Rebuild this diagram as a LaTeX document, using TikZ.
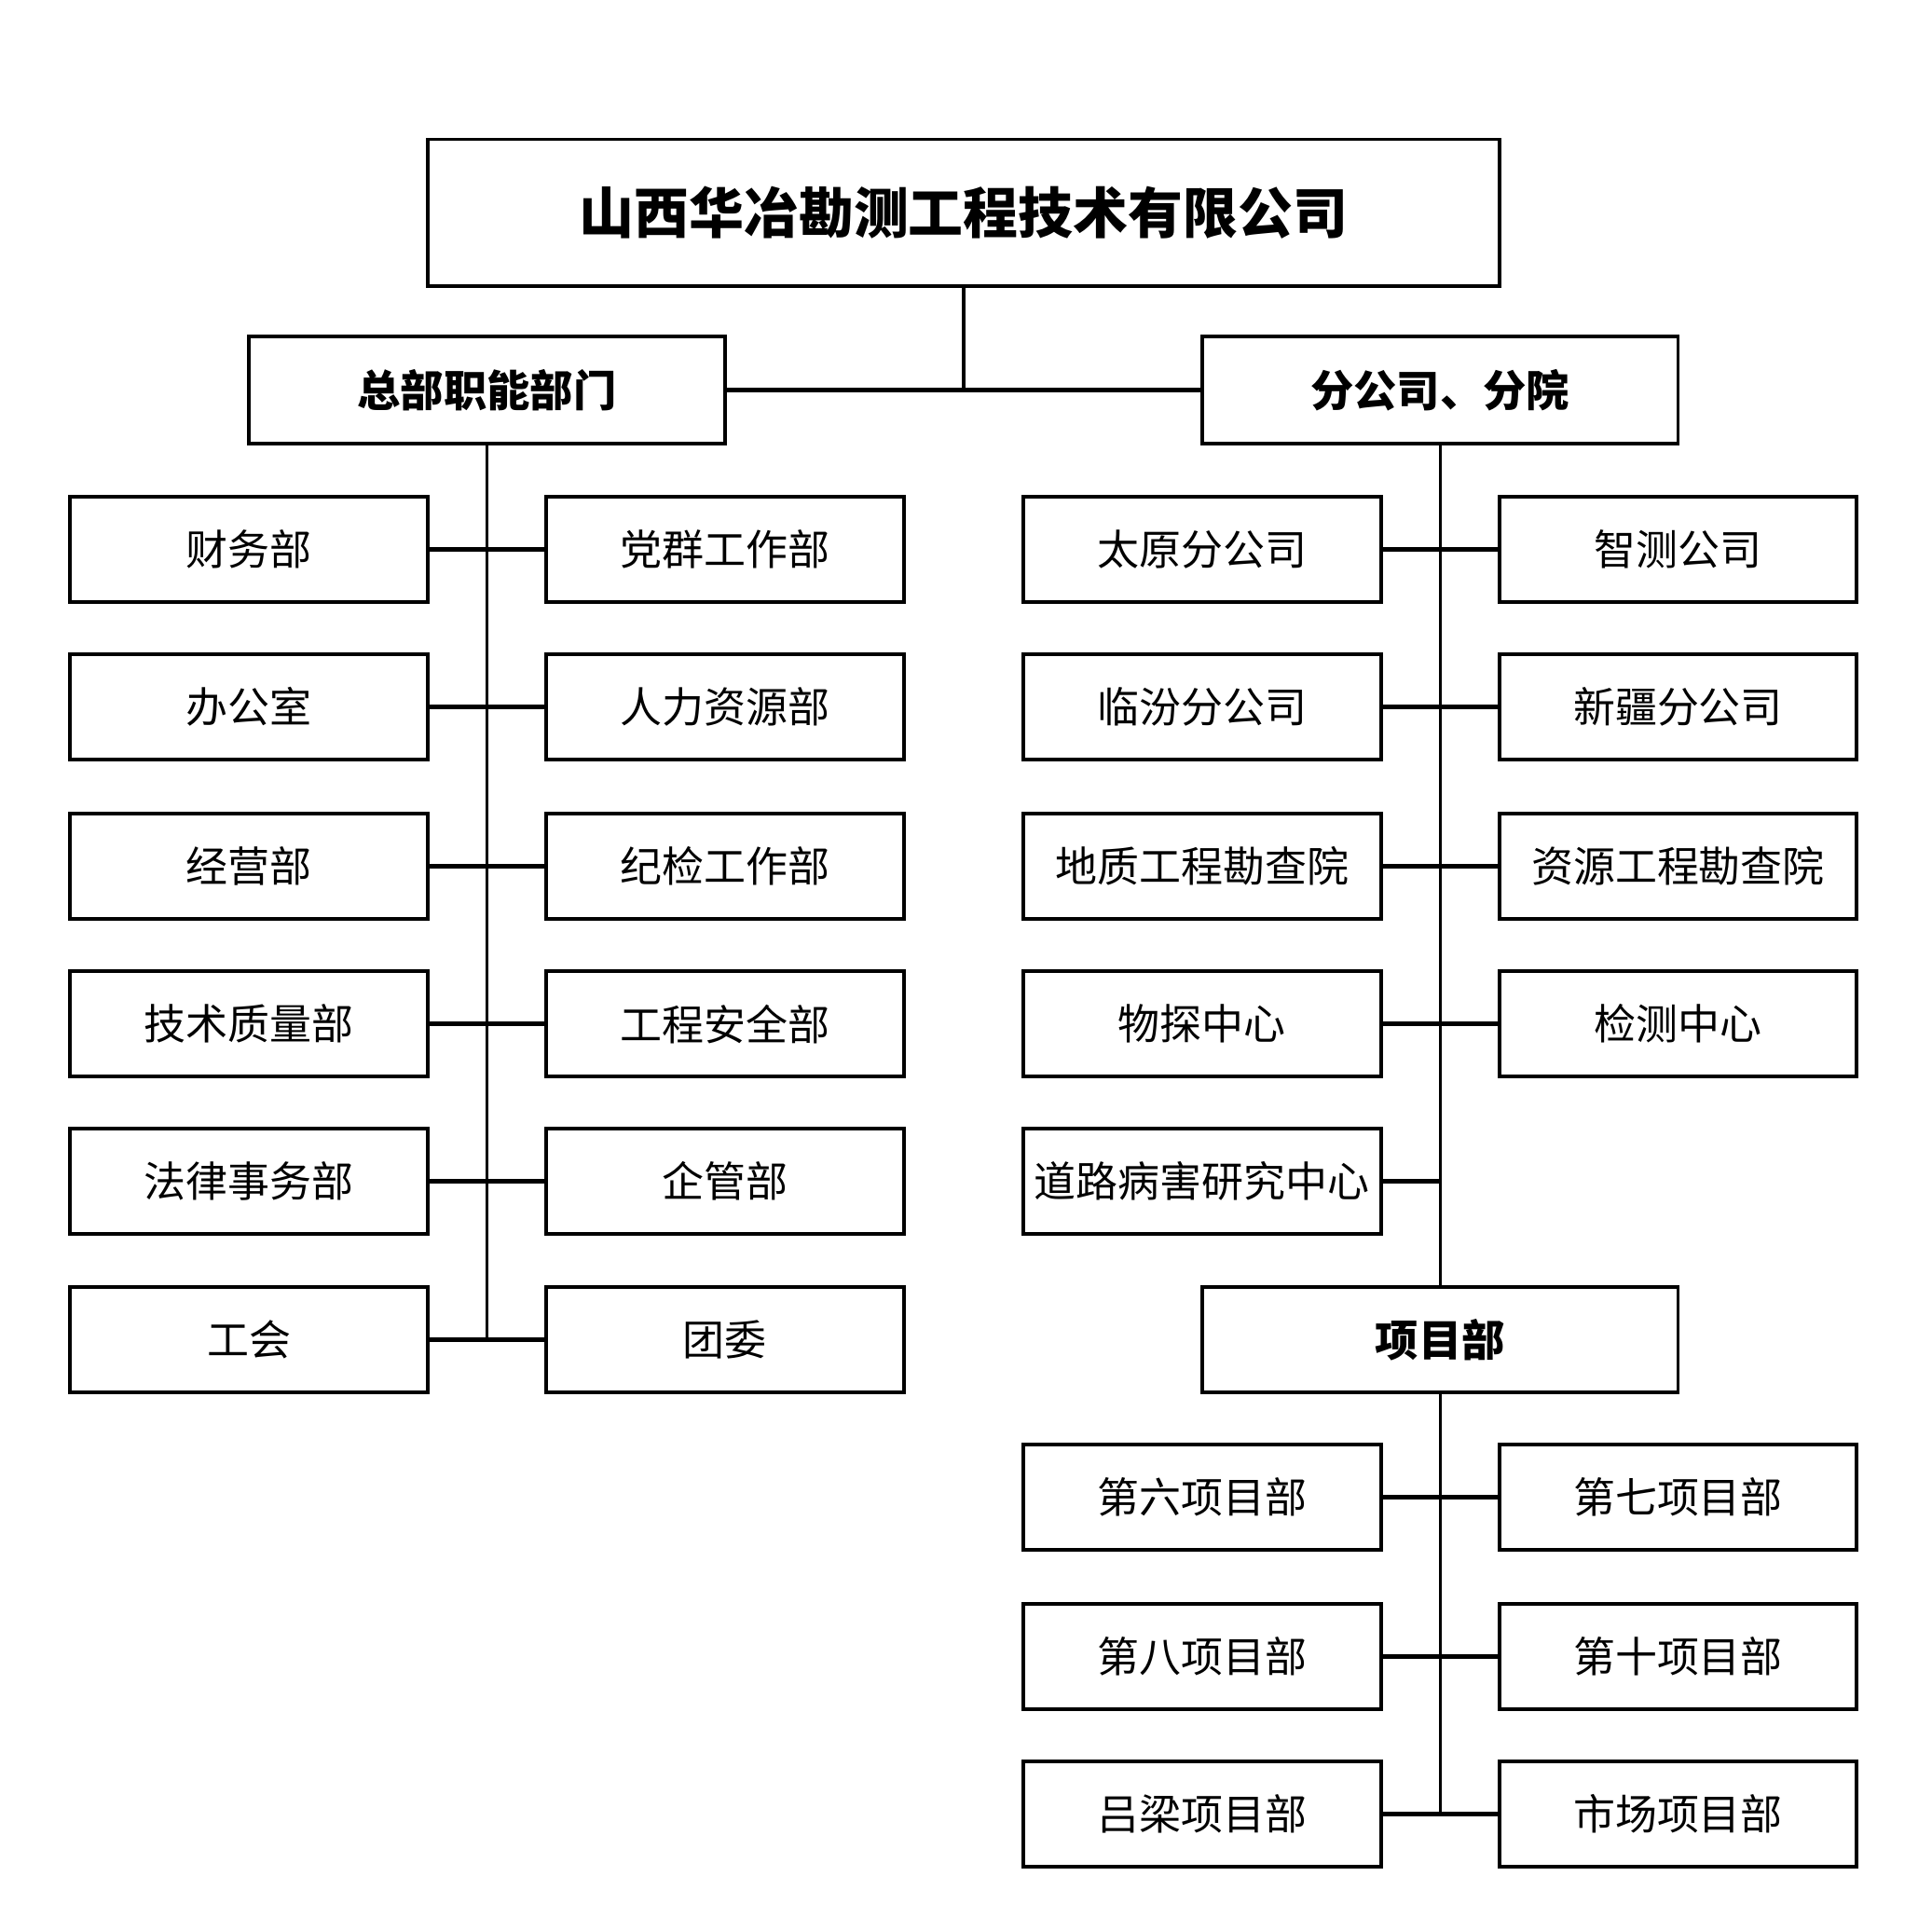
\documentclass[tikz,border=0pt]{standalone}
\usepackage{fontspec}
\newfontfamily\cjk{Noto Sans CJK SC}
\begin{document}
\begin{tikzpicture}[x=1pt,y=-1pt,
  bx/.style={draw,line width=3pt,minimum width=290pt,minimum height=85pt,inner sep=0pt,font=\cjk\fontsize{34}{34}\selectfont},
  midbx/.style={bx,minimum width=386pt,minimum height=87pt,font=\cjk\bfseries\fontsize{35}{35}\selectfont},
  topbx/.style={bx,minimum width=869pt,minimum height=119pt,font=\cjk\bfseries\fontsize{44.5}{44.5}\selectfont},
  ln/.style={line width=2.5pt},
  hln/.style={line width=3.5pt}]
\useasboundingbox (0,0) rectangle (1567,1565.5);
\fill[white] (0,0) rectangle (1567,1565.5);
\node[topbx] (T) at (781.5,172.5) {山西华冶勘测工程技术有限公司};
\node[midbx] (L) at (395,316.5) {总部职能部门};
\node[midbx] (R) at (1168,316.5) {分公司、分院};
% left group
\node[bx] (a1) at (202,445.5) {财务部};
\node[bx] (b1) at (588,445.5) {党群工作部};
\node[bx] (a2) at (202,573.5) {办公室};
\node[bx] (b2) at (588,573.5) {人力资源部};
\node[bx] (a3) at (202,702.5) {经营部};
\node[bx] (b3) at (588,702.5) {纪检工作部};
\node[bx] (a4) at (202,830.5) {技术质量部};
\node[bx] (b4) at (588,830.5) {工程安全部};
\node[bx] (a5) at (202,958) {法律事务部};
\node[bx] (b5) at (588,958) {企管部};
\node[bx] (a6) at (202,1086.5) {工会};
\node[bx] (b6) at (588,1086.5) {团委};
% right group
\node[bx] (c1) at (975,445.5) {太原分公司};
\node[bx] (d1) at (1361,445.5) {智测公司};
\node[bx] (c2) at (975,573.5) {临汾分公司};
\node[bx] (d2) at (1361,573.5) {新疆分公司};
\node[bx] (c3) at (975,702.5) {地质工程勘查院};
\node[bx] (d3) at (1361,702.5) {资源工程勘查院};
\node[bx] (c4) at (975,830.5) {物探中心};
\node[bx] (d4) at (1361,830.5) {检测中心};
\node[bx] (c5) at (975,958) {道路病害研究中心};
\node[midbx,minimum height=85pt] (P) at (1168,1086.5) {项目部};
\node[bx] (e1) at (975,1214.5) {第六项目部};
\node[bx] (f1) at (1361,1214.5) {第七项目部};
\node[bx] (e2) at (975,1343.5) {第八项目部};
\node[bx] (f2) at (1361,1343.5) {第十项目部};
\node[bx] (e3) at (975,1471.5) {吕梁项目部};
\node[bx] (f3) at (1361,1471.5) {市场项目部};
% connectors
\draw[hln] (L.east) -- (R.west);
\draw[ln] (T.south) -- (T.south |- L.east);
\draw[ln] (L.south) -- (L.south |- a6.east);
\foreach \i in {1,...,6} {\draw[hln] (a\i.east) -- (b\i.west);}
\draw[ln] (R.south) -- (P.north);
\foreach \i in {1,...,4} {\draw[hln] (c\i.east) -- (d\i.west);}
\draw[hln] (c5.east) -- (c5.east -| R.south);
\draw[ln] (P.south) -- (P.south |- e3.east);
\foreach \i in {1,...,3} {\draw[hln] (e\i.east) -- (f\i.west);}
\end{tikzpicture}
\end{document}
